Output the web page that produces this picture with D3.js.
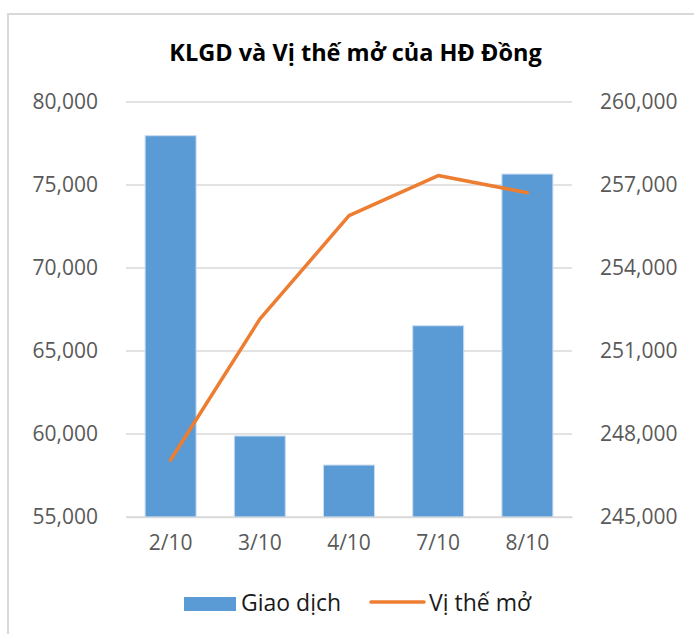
<!DOCTYPE html>
<html lang="vi">
<head>
    <meta charset="UTF-8">
    <title>KLGD và Vị thế mở của HĐ Đồng</title>
    <style>
        body {
            margin: 0;
            background: #fff;
        }

        svg text {
            font-family: "Open Sans", "Noto Sans", sans-serif;
        }

        .tick-label {
            font-size: 21px;
            fill: #595959;
        }

        .grid line {
            stroke: #d9d9d9;
            stroke-width: 1.5;
        }
    </style>
    <script src="https://d3js.org/d3.v7.min.js"></script>
</head>
<body>
    <div id="chart"></div>

    <script>
        // data
        const dates = ['2/10', '3/10', '4/10', '7/10', '8/10'];
        const giaoDich = [77970, 59880, 58130, 66520, 75660];
        const viTheMo = [247060, 252150, 255890, 257340, 256720];
        const leftTicks = [55000, 60000, 65000, 70000, 75000, 80000];
        const rightTicks = [245000, 248000, 251000, 254000, 257000, 260000];

        const width = 694;
        const height = 634;
        const plot = { left: 126, right: 572, top: 102, bottom: 517 };

        const svg = d3.select('#chart')
            .append('svg')
            .attr('width', width)
            .attr('height', height);

        // outer chart frame (runs off the right and bottom)
        svg.append('rect')
            .attr('x', 8)
            .attr('y', 14)
            .attr('width', width + 10)
            .attr('height', height + 10)
            .attr('fill', '#fff')
            .attr('stroke', '#d9d9d9')
            .attr('stroke-width', 2);

        const x = d3.scaleBand()
            .domain(dates)
            .range([plot.left, plot.right])
            .paddingInner(0.75 / 1.75)
            .paddingOuter(0.75 / 1.75 / 2);

        const yLeft = d3.scaleLinear()
            .domain([55000, 80000])
            .range([plot.bottom, plot.top]);

        const yRight = d3.scaleLinear()
            .domain([245000, 260000])
            .range([plot.bottom, plot.top]);

        const fmt = d3.format(',');

        // gridlines
        svg.append('g')
            .attr('class', 'grid')
            .selectAll('line')
            .data(leftTicks)
            .join('line')
            .attr('x1', plot.left)
            .attr('x2', plot.right)
            .attr('y1', d => yLeft(d))
            .attr('y2', d => yLeft(d));

        // left axis labels
        const leftAxis = d3.axisLeft(yLeft)
            .tickValues(leftTicks)
            .tickFormat(fmt)
            .tickSize(0)
            .tickPadding(28);

        svg.append('g')
            .attr('transform', `translate(${plot.left},0)`)
            .call(leftAxis)
            .call(g => g.select('.domain').remove())
            .call(g => g.selectAll('text')
                .attr('class', 'tick-label')
                .attr('font-family', null)
                .attr('font-size', null)
                .attr('fill', null));

        // right axis labels
        const rightAxis = d3.axisRight(yRight)
            .tickValues(rightTicks)
            .tickFormat(fmt)
            .tickSize(0)
            .tickPadding(28);

        svg.append('g')
            .attr('transform', `translate(${plot.right},0)`)
            .call(rightAxis)
            .call(g => g.select('.domain').remove())
            .call(g => g.selectAll('text')
                .attr('class', 'tick-label')
                .attr('font-family', null)
                .attr('font-size', null)
                .attr('fill', null));

        // bars
        svg.append('g')
            .selectAll('rect')
            .data(dates)
            .join('rect')
            .attr('x', d => x(d))
            .attr('width', x.bandwidth())
            .attr('y', (d, i) => yLeft(giaoDich[i]))
            .attr('height', (d, i) => plot.bottom - yLeft(giaoDich[i]))
            .attr('fill', '#5b9bd5')
            .attr('stroke', '#c9dcf0')
            .attr('stroke-width', 1);

        // bottom axis
        const bottomAxis = d3.axisBottom(x)
            .tickSize(0)
            .tickPadding(18);

        svg.append('g')
            .attr('transform', `translate(0,${plot.bottom})`)
            .call(bottomAxis)
            .call(g => g.select('.domain')
                .attr('stroke', '#d9d9d9')
                .attr('stroke-width', 1.5))
            .call(g => g.selectAll('text')
                .attr('class', 'tick-label')
                .attr('font-family', null)
                .attr('font-size', null)
                .attr('fill', null));

        // line
        const line = d3.line()
            .x(d => x(d) + x.bandwidth() / 2)
            .y((d, i) => yRight(viTheMo[i]));

        svg.append('path')
            .datum(dates)
            .attr('d', line)
            .attr('fill', 'none')
            .attr('stroke', '#ed7d31')
            .attr('stroke-width', 3.5)
            .attr('stroke-linejoin', 'round')
            .attr('stroke-linecap', 'round');

        // title
        svg.append('text')
            .attr('x', 355.5)
            .attr('y', 61)
            .attr('text-anchor', 'middle')
            .attr('font-size', 23.5)
            .attr('font-weight', 'bold')
            .attr('fill', '#000')
            .text('KLGD và Vị thế mở của HĐ Đồng');

        // legend
        const legend = svg.append('g');

        legend.append('rect')
            .attr('x', 184)
            .attr('y', 597)
            .attr('width', 52)
            .attr('height', 14)
            .attr('fill', '#5b9bd5');

        legend.append('text')
            .attr('x', 241)
            .attr('y', 611)
            .attr('font-size', 23)
            .attr('fill', '#1a1a1a')
            .text('Giao dịch');

        legend.append('line')
            .attr('x1', 371)
            .attr('x2', 424)
            .attr('y1', 602)
            .attr('y2', 602)
            .attr('stroke', '#ed7d31')
            .attr('stroke-width', 3.5)
            .attr('stroke-linecap', 'round');

        legend.append('text')
            .attr('x', 429)
            .attr('y', 611)
            .attr('font-size', 23)
            .attr('fill', '#1a1a1a')
            .text('Vị thế mở');
    </script>
</body>
</html>
